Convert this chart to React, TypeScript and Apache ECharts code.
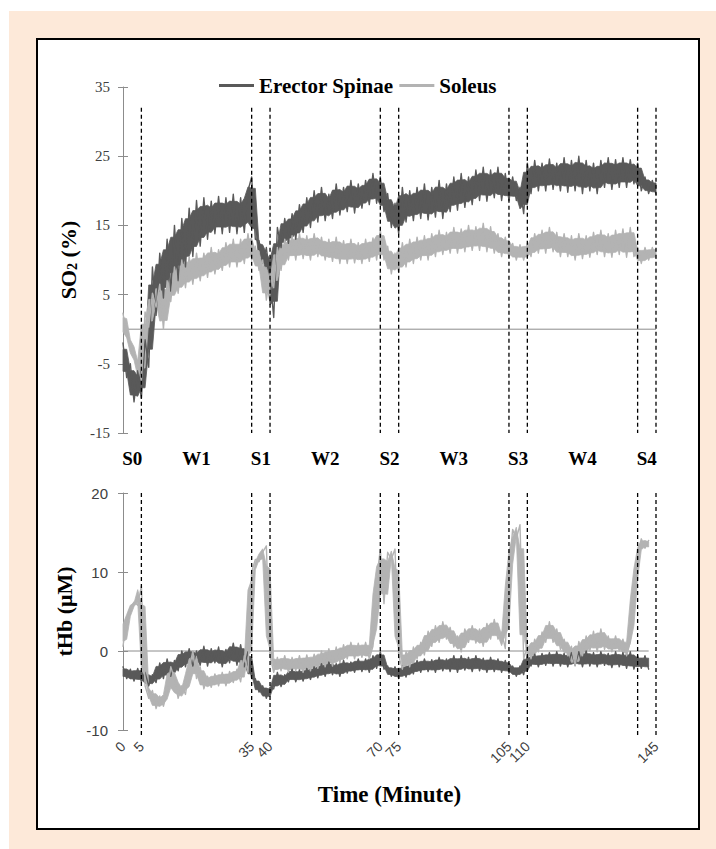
import React, { useEffect, useRef } from "react";
import * as echarts from "echarts";

const SERIF = "'Liberation Serif', 'Times New Roman', serif";
const SANS = "'Liberation Sans', Arial, sans-serif";

const seriesNames = ["Erector Spinae", "Soleus"];
const phaseLabels = ["S0", "W1", "S1", "W2", "S2", "W3", "S3", "W4", "S4"];
const phaseCenters = [2.5, 20, 37.5, 55, 72.5, 90, 107.5, 125, 142.5];
const markerMinutes = [5, 35, 40, 70, 75, 105, 110, 140, 145];
const timeTickLabels = [0, 5, 35, 40, 70, 75, 105, 110, 140, 145];
const so2Ticks = [-15, -5, 5, 15, 25, 35];
const thbTicks = [-10, 0, 10, 20];

// SO2 (%) sampled each minute, t = 0..145 (alternating high / low of the noisy trace)
const erectorSO2 = [
  -2, -7, -5, -10.5, -6, -10, -1.5, -5.5, 9, 2,
  11, 4.5, 13, 5.5, 15, 7, 16, 9, 17.5, 10.5,
  18.6, 12, 19, 13, 18.5, 13.8, 19.2, 13.8, 19, 14,
  19.5, 13.8, 19, 14, 20, 22, 13, 12.8, 9.5, 11.8,
  7.5, 1.7, 14.7, 11.8, 16, 12.4, 16.7, 13, 18, 14,
  19, 14.7, 20, 15.5, 20.5, 15.7, 19.5, 16, 21, 16.5,
  20.5, 17, 21.5, 16.8, 21, 17.5, 21.5, 18, 22.5, 18.2,
  22, 17, 19.6, 14.7, 18.2, 13.8, 20.5, 15.5, 20, 15.7,
  20.5, 16, 21, 15.8, 20.5, 16.2, 21.5, 16, 21, 17,
  22, 17.2, 22.5, 17.6, 22, 18, 23, 18.6, 23.4, 18.5,
  23, 19, 23.4, 18.6, 22.5, 18.6, 22, 18.6, 20.5, 16.7,
  24, 19.6, 24.4, 20, 24, 20, 24.6, 20.2, 24, 20,
  24.8, 19.8, 24.4, 20, 25, 19.6, 24.4, 20, 24, 19.6,
  24.4, 20.5, 24.8, 20.2, 24.5, 20.5, 24.8, 20.5, 24.5, 21,
  24, 20, 22, 19.6, 21.5, 19.5,
];
const soleusSO2 = [
  2.3, -1, -2, -4, -5, -7.4, 2.5, 0.3, 5.2, 3.2,
  6.5, 0, 7, 4, 9, 5.2, 10, 6, 10.5, 6.5,
  11, 7, 11, 7.5, 11.8, 8, 11.5, 8.5, 12.5, 9,
  13, 9, 13, 9.5, 13.8, 10, 12, 8.5, 10, 4.2,
  8, 6, 11.8, 8.5, 13, 10, 13.5, 10, 13.8, 10.2,
  13.5, 10, 13.8, 10.5, 13.3, 10, 13, 9.8, 13.3, 9.5,
  12.8, 9.5, 13, 9.6, 12.5, 9.5, 13, 9.8, 13.2, 10,
  14.3, 10, 12, 8, 11, 8.2, 12.5, 9, 13, 9.5,
  13.3, 10, 13.5, 10, 13.8, 10.5, 14.3, 10.8, 14, 11,
  14.7, 11, 14.5, 11.2, 15, 11.4, 14.8, 11.4, 15.3, 11.2,
  14.8, 11, 13.8, 10.5, 13.3, 10.4, 12.4, 10, 12.2, 10,
  12.4, 10.5, 13.8, 11, 14.3, 11, 14.7, 11.2, 14, 10.5,
  13.8, 10.5, 13.5, 10, 13.8, 10.2, 13.5, 10.4, 14, 10.8,
  14.3, 10.5, 13.8, 10.4, 14.3, 10.8, 14.5, 10.4, 14.7, 10.5,
  11.8, 9.5, 11.8, 10, 11.8, 10.2,
];

// tHb (µM) sampled each minute, t = 0..143
const erectorTHb = [
  -2, -3.5, -2.3, -3.8, -2.2, -3.9, -2.7, -4.4, -3, -4,
  -1.5, -3.5, -1, -3.2, -1.2, -2.5, 0, -2, 0.3, -1.9,
  0, -1.8, 0.6, -1.9, 0.3, -1.5, 0.5, -2, 0.2, -1.5,
  1, -1.8, 0.8, -2, -0.1, -3.5, -3.5, -5.2, -4.4, -6,
  -4.6, -4.8, -2.7, -4.5, -3, -3.9, -2.3, -3.9, -2.4, -3.8,
  -2.2, -3.6, -2, -3.4, -1.6, -3.2, -1.4, -3, -1.6, -3.2,
  -1.2, -2.8, -1.4, -2.7, -1, -2.6, -1, -2.7, -0.6, -2.2,
  -0.1, -2.3, -1.9, -3.2, -2, -3.5, -1.9, -3.3, -1.6, -2.9,
  -1.2, -2.7, -1, -2.6, -1.1, -2.7, -0.8, -2.5, -1, -2.6,
  -0.6, -2.7, -0.6, -2.4, -0.8, -2.6, -0.6, -2.5, -0.9, -2.7,
  -0.8, -2.6, -1, -2.7, -1.2, -2.8, -1.9, -3.2, -1.9, -3,
  -0.6, -1.9, -0.4, -2, -0.3, -1.8, -0.2, -1.9, -0.1, -1.9,
  -0.3, -2, -0.2, -1.8, -0.1, -2, 0, -1.9, -0.2, -2,
  -0.1, -1.8, -0.3, -2.1, -0.1, -2, -0.2, -2.2, -0.1, -2.3,
  -0.6, -2.2, -0.6, -2.3,
];
const soleusTHb = [
  0.6, 4, 5.5, 6.2, 5.8, 8.2, -4.4, -6, -5, -7.3,
  -5.7, -7, -5.2, -2, -3.5, -6, -4.4, -5.5, -2.3, 0,
  -3.5, -2, -4.8, -3.2, -4.6, -2.9, -4.4, -2.7, -4.4, -2.6,
  -4, -2.3, -3.9, -0.6, -2.7, 10, 11.6, 11.3, 12.5, 13.3,
  -0.6, -2.7, -0.8, -2.5, -0.6, -2.7, -0.8, -2.5, -0.6, -2.7,
  -0.5, -2.5, -0.4, -2.2, 0, -2, 0.3, -1.9, 0.5, -1.5,
  0.8, -1, 1.1, -1, 1, -0.8, 1.1, -1, 0.6, 9,
  12.9, 6, 12.5, 11.6, 12.9, -0.6, -2.3, -0.1, -2, 0.5,
  -1, 1.1, -0.5, 2.5, 0.6, 3.2, 1.1, 3.7, 1.5, 3,
  0.5, 1.9, -0.1, 2.8, 1.1, 3.2, 1, 2.8, 0.6, 3.5,
  1.5, 4, 1.5, 2.4, 0.3, 10, 15.4, 14.2, 16, -1,
  0.6, -1, 1.5, -0.1, 2.4, 1.1, 3.7, 1.1, 2.8, 0.2,
  1.5, -0.6, 0.6, -1.9, 1.2, -0.6, 1.9, 0, 2.5, -0.1,
  2.8, 0.2, 1.9, -0.1, 1.9, 0, 1.5, -0.6, 1.2, 8,
  12.5, 14.2, 13, 14,
];

const COLOR_ES = "#595959";
const COLOR_SOL = "#b3b3b3";
const AXIS_GRAY = "#8c8c8c";

export default function App() {
  const ref = useRef<HTMLDivElement>(null);

  useEffect(() => {
    if (!ref.current) return;
    const chart = echarts.init(ref.current, null, { renderer: "svg" });
    const toPairs = (arr: number[]) => arr.map((v, i) => [i, v]);
    // core of the noisy trace: the local range of neighbouring samples, trimmed a little
    // so that the individual spikes of the trace still stick out of the filled band
    const coreBand = (arr: number[]) => {
      const lo = arr.map((v, i) => Math.min(v, arr[i - 1] ?? v, arr[i + 1] ?? v));
      const hi = arr.map((v, i) => Math.max(v, arr[i - 1] ?? v, arr[i + 1] ?? v));
      const trim = 0.18;
      return {
        lo: lo.map((l, i) => l + (hi[i] - l) * trim),
        hi: hi.map((h, i) => h - (h - lo[i]) * trim),
      };
    };

    const trace = (name: string, color: string, arr: number[], xi: number, yi: number, key: string) => {
      const { lo, hi } = coreBand(arr);
      return [
        {
          name: key + "-band",
          type: "custom",
          xAxisIndex: xi,
          yAxisIndex: yi,
          data: [[0, arr[0]]],
          silent: true,
          z: 2,
          renderItem: (params: any, api: any) => {
            const top = hi.map((v, i) => api.coord([i, v]));
            const bottom = lo.map((v, i) => api.coord([i, v])).reverse();
            return {
              type: "polygon",
              shape: { points: top.concat(bottom) },
              style: { fill: color, stroke: color, lineWidth: 0.8 },
            };
          },
        },
        {
          name,
          type: "line",
          xAxisIndex: xi,
          yAxisIndex: yi,
          data: toPairs(arr),
          symbol: "none",
          showSymbol: false,
          silent: true,
          z: 2,
          lineStyle: { color, width: 1.4, join: "round", cap: "round" },
          itemStyle: { color },
        },
      ];
    };

    const zeroLine = (xi: number, yi: number, end: number) => ({
      type: "line",
      xAxisIndex: xi,
      yAxisIndex: yi,
      data: [[0, 0], [end, 0]],
      symbol: "none",
      silent: true,
      z: 1,
      lineStyle: { color: AXIS_GRAY, width: 1 },
    });

    const dashed = (xi: number, yi: number, yTop: number, yBot: number) =>
      markerMinutes.map((m) => ({
        type: "line",
        xAxisIndex: xi,
        yAxisIndex: yi,
        data: [[m, yTop], [m, yBot]],
        symbol: "none",
        silent: true,
        clip: false,
        z: 5,
        lineStyle: { color: "#000", width: 1.3, type: [4, 3] },
      }));

    const yAxisBase = (grid: number, min: number, max: number, ticks: number[]) => ({
      type: "value",
      gridIndex: grid,
      position: "left",
      min,
      max,
      splitLine: { show: false },
      axisLine: { show: true, lineStyle: { color: AXIS_GRAY, width: 1 } },
      axisTick: { show: true, length: 5, customValues: ticks, lineStyle: { color: AXIS_GRAY } },
    });

    chart.setOption({
      animation: false,
      backgroundColor: "transparent",
      legend: {
        data: seriesNames,
        left: 214,
        top: 70,
        icon: "rect",
        itemWidth: 35,
        itemHeight: 3,
        itemGap: 6,
        selectedMode: false,
        textStyle: { fontFamily: SERIF, fontWeight: "bold", fontSize: 21, color: "#000" },
      },
      grid: [
        { left: 123, top: 87, width: 533, height: 346 },
        { left: 123, top: 493, width: 533, height: 237 },
      ],
      xAxis: [
        {
          type: "value",
          gridIndex: 0,
          min: 0,
          max: 145,
          splitLine: { show: false },
          axisLine: { show: false },
          axisTick: { show: false },
          axisLabel: {
            customValues: phaseCenters,
            formatter: (v: number) => {
              const i = phaseCenters.indexOf(v);
              return i >= 0 ? phaseLabels[i] : "";
            },
            fontFamily: SERIF,
            fontWeight: "bold",
            fontSize: 19,
            color: "#000",
            margin: 16,
          },
        },
        {
          type: "value",
          gridIndex: 1,
          min: 0,
          max: 145,
          splitLine: { show: false },
          axisLine: { show: false },
          axisTick: { show: false },
          axisLabel: {
            customValues: timeTickLabels,
            rotate: 45,
            showMinLabel: true,
            showMaxLabel: true,
            fontFamily: SANS,
            fontSize: 14,
            color: "#404040",
            margin: 14,
          },
          name: "Time (Minute)",
          nameLocation: "middle",
          nameGap: 53,
          nameTextStyle: { fontFamily: SERIF, fontWeight: "bold", fontSize: 23, color: "#000" },
        },
      ],
      yAxis: [
        {
          ...yAxisBase(0, -15, 35, so2Ticks),
          axisLabel: { customValues: so2Ticks, fontFamily: SERIF, fontSize: 15, color: "#404040", margin: 13 },
          name: "SO{sub|2} (%)",
          nameLocation: "middle",
          nameRotate: 90,
          nameGap: 38,
          nameTextStyle: {
            fontFamily: SERIF,
            fontWeight: "bold",
            fontSize: 22,
            color: "#000",
            rich: {
              sub: { fontFamily: SERIF, fontWeight: "bold", fontSize: 14, color: "#000", verticalAlign: "bottom", lineHeight: 14 },
            },
          },
        },
        {
          ...yAxisBase(0, -15, 35, so2Ticks),
          axisLine: { show: false },
          axisTick: { show: true, inside: true, length: 5, customValues: so2Ticks, lineStyle: { color: AXIS_GRAY } },
          axisLabel: { show: false },
        },
        {
          ...yAxisBase(1, -10, 20, thbTicks),
          interval: 10,
          axisLabel: { customValues: thbTicks, fontFamily: SANS, fontSize: 15, color: "#404040", margin: 15 },
          name: "tHb (μM)",
          nameLocation: "middle",
          nameRotate: 90,
          nameGap: 42,
          nameTextStyle: { fontFamily: SERIF, fontWeight: "bold", fontSize: 22, color: "#000" },
        },
        {
          ...yAxisBase(1, -10, 20, thbTicks),
          interval: 10,
          axisLine: { show: false },
          axisTick: { show: true, inside: true, length: 5, customValues: thbTicks, lineStyle: { color: AXIS_GRAY } },
          axisLabel: { show: false },
        },
      ],
      series: [
        zeroLine(0, 0, 145),
        zeroLine(1, 2, 143),
        ...trace(seriesNames[0], COLOR_ES, erectorSO2, 0, 0, "esTop"),
        ...trace(seriesNames[1], COLOR_SOL, soleusSO2, 0, 0, "solTop"),
        ...trace(seriesNames[0], COLOR_ES, erectorTHb, 1, 2, "esBot"),
        ...trace(seriesNames[1], COLOR_SOL, soleusTHb, 1, 2, "solBot"),
        ...dashed(0, 0, 32, -15),
        ...dashed(1, 2, 20, -11),
      ],
    });

    return () => chart.dispose();
  }, []);

  return (
    <div style={{ position: "absolute", left: 0, top: 0, width: 716, height: 849, background: "#fff" }}>
      <div style={{ position: "absolute", left: 9, top: 11, width: 707, height: 838, background: "#fde9d9" }} />
      <div
        style={{
          position: "absolute",
          left: 36,
          top: 38,
          width: 660,
          height: 788,
          background: "#fff",
          border: "2px solid #000",
        }}
      />
      <div ref={ref} style={{ position: "absolute", left: 0, top: 0, width: 716, height: 849 }} />
    </div>
  );
}
